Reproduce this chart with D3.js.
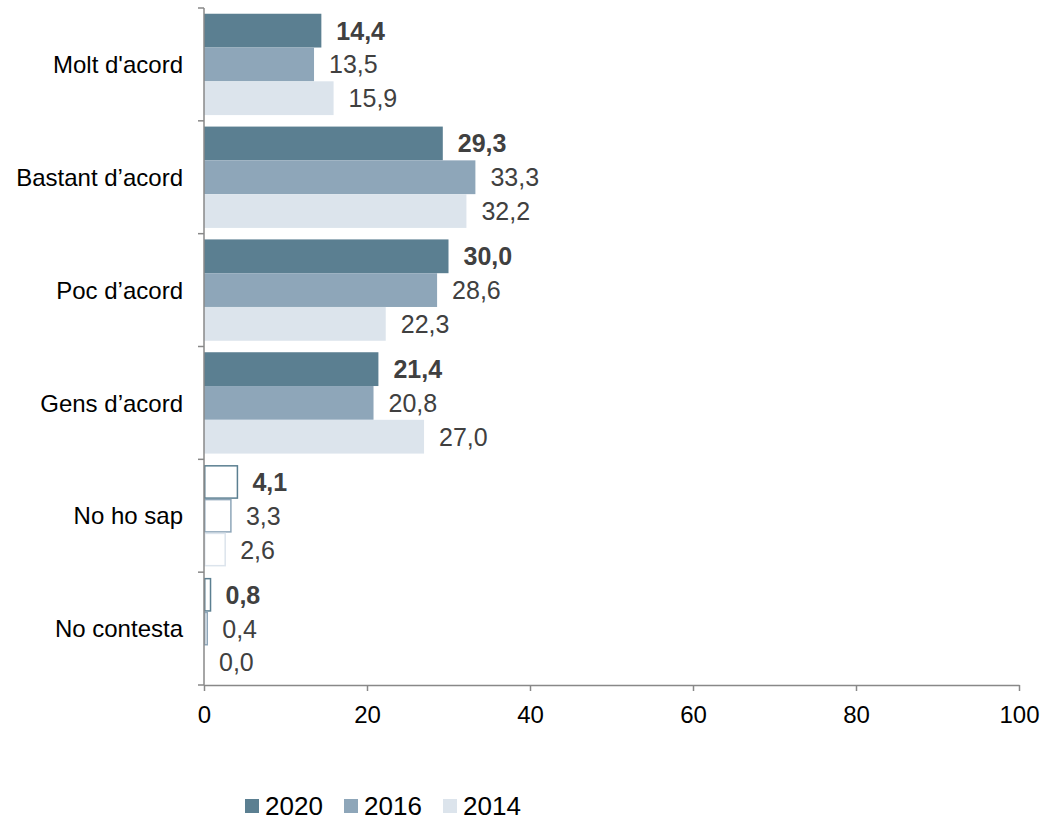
<!DOCTYPE html>
<html><head><meta charset="utf-8">
<script src="https://cdn.jsdelivr.net/npm/d3@7"></script>
<style>body{margin:0;background:#fff}svg{display:block;font-family:"Liberation Sans",Arial,sans-serif}</style>
</head><body>
<svg id="c" width="1045" height="818"></svg>
<script>
const categories = ["Molt d'acord","Bastant d’acord","Poc d’acord","Gens d’acord","No ho sap","No contesta"];
const series = ["2020","2016","2014"];
const values2020 = [14.4,29.3,30.0,21.4,4.1,0.8];
const values2016 = [13.5,33.3,28.6,20.8,3.3,0.4];
const values2014 = [15.9,32.2,22.3,27.0,2.6,0.0];
const outlinedCategories = ["No ho sap","No contesta"];
const xTicks = [0,20,40,60,80,100];
const colors = {"2020":"#5b7f91","2016":"#8ea6b9","2014":"#dce4ec"};

const seriesValues = {"2020":values2020,"2016":values2016,"2014":values2014};
const svg = d3.select("#c");
const x = d3.scaleLinear().domain([0,100]).range([204,1019]);
const y = d3.scaleBand().domain(categories).range([8,685]).paddingInner(0).paddingOuter(0);
const inner = d3.scaleBand().domain(series).range([0,y.bandwidth()]).paddingOuter(0.17).paddingInner(0);

// bars
series.forEach(s=>{
  const g = svg.append("g");
  categories.forEach((c,i)=>{
    const v = seriesValues[s][i];
    const outlined = outlinedCategories.includes(c);
    const yy = y(c)+inner(s);
    if(outlined){
      g.append("rect").attr("x",x(0)+0.75).attr("y",yy+0.75)
        .attr("width",Math.max(0,x(v)-x(0)-0.75)).attr("height",inner.bandwidth()-1.5)
        .attr("fill","#fff").attr("stroke",colors[s]).attr("stroke-width",v>0?1.5:0);
    } else {
      g.append("rect").attr("x",x(0)).attr("y",yy)
        .attr("width",x(v)-x(0)).attr("height",inner.bandwidth()).attr("fill",colors[s]);
    }
    g.append("text").attr("x",x(v)+15).attr("y",yy+inner.bandwidth()/2)
      .attr("dy","0.36em").attr("font-size",25)
      .attr("font-weight",s==="2020"?"bold":"normal")
      .attr("fill","#404040")
      .text(v.toFixed(1).replace(".",","));
  });
});

// y axis
const yAxis = svg.append("g").attr("transform",`translate(${x(0)},0)`);
yAxis.append("line").attr("x1",0).attr("x2",0).attr("y1",8).attr("y2",685).attr("stroke","#888").attr("stroke-width",1.5);
const bounds = categories.map(c=>y(c)).concat([y.range()[1]]);
bounds.forEach(b=>{
  yAxis.append("line").attr("x1",-6).attr("x2",0).attr("y1",b).attr("y2",b).attr("stroke","#888").attr("stroke-width",1.5);
});
categories.forEach(c=>{
  svg.append("text").attr("x",183).attr("y",y(c)+y.bandwidth()/2).attr("dy","0.36em")
    .attr("text-anchor","end").attr("font-size",24).attr("fill","#000").text(c);
});

// x axis
const xa = svg.append("g").attr("transform","translate(0,685)")
  .call(d3.axisBottom(x).tickValues(xTicks).tickSize(6).tickSizeOuter(0).tickPadding(15).tickFormat(d3.format("d")));
xa.select(".domain").attr("stroke","#888").attr("stroke-width",1.5);
xa.selectAll(".tick line").attr("stroke","#888").attr("stroke-width",1.5);
xa.selectAll(".tick text").attr("font-size",24).attr("fill","#000").attr("font-family","Liberation Sans, Arial, sans-serif");

// legend
const legendX = [245,344,443];
series.forEach((s,i)=>{
  svg.append("rect").attr("x",legendX[i]).attr("y",799).attr("width",14).attr("height",14).attr("fill",colors[s]);
  svg.append("text").attr("x",legendX[i]+20).attr("y",806).attr("dy","0.36em").attr("font-size",26).attr("fill","#000").text(s);
});
</script>
</body></html>
